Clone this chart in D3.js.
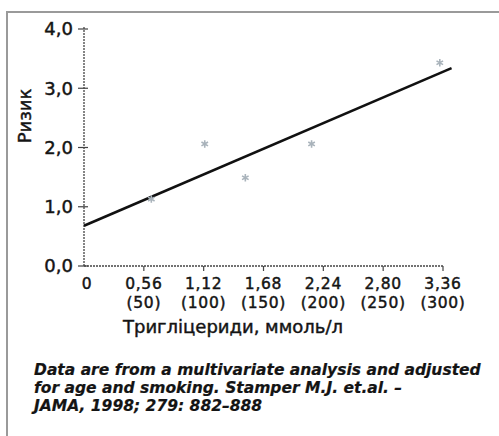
<!DOCTYPE html>
<html>
<head>
<meta charset="utf-8">
<script src="https://cdn.jsdelivr.net/npm/d3@7"></script>
<style>
  body { margin: 0; background: #fff; }
  svg { display: block; }
  text { font-family: "DejaVu Sans", sans-serif; fill: #141414; stroke: #141414; stroke-width: 0.45px; }
</style>
</head>
<body>
<svg id="chart"></svg>
<script>
// measured points (triglycerides, mmol/l -> relative risk)
var pointX = [0.63, 1.13, 1.51, 2.13, 3.33];
var pointY = [1.13, 2.06, 1.49, 2.06, 3.43];

// regression line endpoints
var lineX = [0, 3.44];
var lineY = [0.68, 3.34];

var xTicks = [0, 0.56, 1.12, 1.68, 2.24, 2.8, 3.36];
var xTickTop = ["0", "0,56", "1,12", "1,68", "2,24", "2,80", "3,36"];
var xTickBottom = ["", "(50)", "(100)", "(150)", "(200)", "(250)", "(300)"];
var yTicks = [0, 1, 2, 3, 4];
var yTickLabels = ["0,0", "1,0", "2,0", "3,0", "4,0"];

var footnote = [
  "Data are from a multivariate analysis and adjusted",
  "for age and smoking. Stamper M.J. et.al. \u2013",
  "JAMA, 1998; 279: 882\u2013888",
];

var width = 499,
  height = 436;

var svg = d3.select("#chart").attr("width", width).attr("height", height);

// grey frame around the figure (runs off the right and bottom edges)
svg
  .append("rect")
  .attr("x", 7)
  .attr("y", 12)
  .attr("width", 520)
  .attr("height", 460)
  .attr("fill", "none")
  .attr("stroke", "#9a9a9a")
  .attr("stroke-width", 2);

var x = d3.scaleLinear().domain([0, 3.36]).range([84, 443]);
var y = d3.scaleLinear().domain([0, 4]).range([266, 29]);

// y axis: dotted line, ticks crossing it
svg
  .append("line")
  .attr("x1", x(0))
  .attr("x2", x(0))
  .attr("y1", y(0))
  .attr("y2", y(4) - 3)
  .attr("stroke", "#444")
  .attr("stroke-width", 1.3)
  .attr("stroke-dasharray", "2,1");

svg
  .selectAll(".ytick")
  .data(yTicks)
  .enter()
  .append("line")
  .attr("x1", x(0) - 6)
  .attr("x2", x(0) + 4)
  .attr("y1", (d) => y(d))
  .attr("y2", (d) => y(d))
  .attr("stroke", "#444")
  .attr("stroke-width", 1.2);

svg
  .selectAll(".ylabel")
  .data(yTicks)
  .enter()
  .append("text")
  .attr("x", 73)
  .attr("y", (d) => y(d))
  .attr("dy", "0.35em")
  .attr("text-anchor", "end")
  .style("font-size", "18px")
  .text((d, i) => yTickLabels[i]);

// x axis
svg
  .append("line")
  .attr("x1", x(0))
  .attr("x2", x(3.36))
  .attr("y1", y(0))
  .attr("y2", y(0))
  .attr("stroke", "#444")
  .attr("stroke-width", 1.3)
  .attr("stroke-dasharray", "2,1");

svg
  .selectAll(".xtick")
  .data(xTicks.slice(1))
  .enter()
  .append("line")
  .attr("x1", (d) => x(d))
  .attr("x2", (d) => x(d))
  .attr("y1", y(0))
  .attr("y2", y(0) + 5)
  .attr("stroke", "#444")
  .attr("stroke-width", 1.2);

// two-line tick labels: value in mmol/l with mg/dl underneath
svg
  .selectAll(".xlabel1")
  .data(xTicks)
  .enter()
  .append("text")
  .attr("x", (d) => x(d) + (d == 0 ? 3 : 0))
  .attr("y", 289)
  .attr("text-anchor", "middle")
  .style("font-size", "15.5px")
  .style("letter-spacing", "0.7px")
  .text((d, i) => xTickTop[i]);

svg
  .selectAll(".xlabel2")
  .data(xTicks.slice(1))
  .enter()
  .append("text")
  .attr("x", (d) => x(d))
  .attr("y", 307.5)
  .attr("text-anchor", "middle")
  .style("font-size", "15.5px")
  .style("letter-spacing", "0.7px")
  .text((d, i) => xTickBottom[i + 1]);

// axis titles
svg
  .append("text")
  .attr("x", 123)
  .attr("y", 333)
  .style("font-size", "18px")
  .text("Тригліцериди, ммоль/л");

svg
  .append("text")
  .attr("transform", "translate(31,116) rotate(-90)")
  .attr("text-anchor", "middle")
  .style("font-size", "18px")
  .text("Ризик");

// regression line
var lineGenerator = d3
  .line()
  .x((d) => x(d[0]))
  .y((d) => y(d[1]));

svg
  .append("path")
  .datum(d3.zip(lineX, lineY))
  .attr("fill", "none")
  .attr("stroke", "#111")
  .attr("stroke-width", 2.6)
  .attr("d", lineGenerator);

// data points, faint asterisks
svg
  .selectAll(".pt")
  .data(d3.zip(pointX, pointY))
  .enter()
  .append("path")
  .attr("transform", (d) => `translate(${x(d[0])},${y(d[1])})`)
  .attr("d", d3.symbol(d3.symbolAsterisk, 40))
  .attr("fill", "none")
  .attr("stroke", "#a9b3bb")
  .attr("stroke-width", 1.6);

// footnote, fitted to the width of the first line
var foot = svg
  .selectAll(".foot")
  .data(footnote)
  .enter()
  .append("text")
  .attr("x", 34)
  .attr("y", (d, i) => 375 + i * 18)
  .style("font-size", "14px")
  .style("font-style", "italic")
  .style("font-weight", "bold")
  .style("stroke-width", "0.2px")
  .text((d) => d);

var firstLen = foot.node().getComputedTextLength();
foot.style("font-size", (14 * 447) / firstLen + "px");
</script>
</body>
</html>
